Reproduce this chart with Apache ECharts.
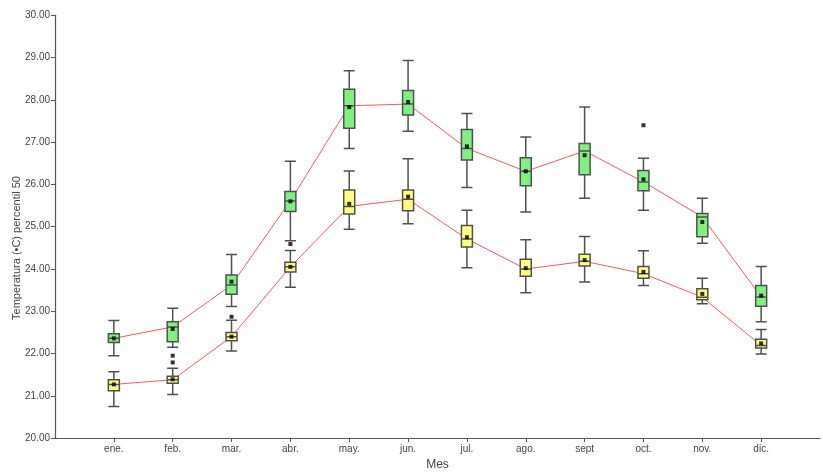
<!DOCTYPE html>
<html>
<head>
<meta charset="utf-8">
<script src="https://cdn.jsdelivr.net/npm/echarts@6/dist/echarts.min.js"></script>
<style>html,body{margin:0;padding:0;background:#fff}#c{width:823px;height:476px}</style>
</head>
<body>
<div id="c"></div>
<script>
// categories (empty ends give the padding before ene. and after dic.)
const months = ['', 'ene.', 'feb.', 'mar.', 'abr.', 'may.', 'jun.', 'jul.', 'ago.', 'sept', 'oct.', 'nov.', 'dic.', ''];
const yTicks = [20, 30, 1];

// green series: [min, Q1, median, Q3, max]
const greenBoxes = [
  [21.95, 22.26, 22.36, 22.47, 22.78],
  [22.15, 22.28, 22.63, 22.75, 23.07],
  [23.11, 23.40, 23.62, 23.86, 24.34],
  [24.67, 25.36, 25.61, 25.83, 26.55],
  [26.85, 27.33, 27.86, 28.25, 28.69],
  [27.26, 27.64, 27.90, 28.22, 28.93],
  [25.93, 26.58, 26.85, 27.30, 27.68],
  [25.35, 25.97, 26.31, 26.63, 27.12],
  [25.67, 26.23, 26.79, 26.97, 27.83],
  [25.39, 25.85, 26.06, 26.33, 26.62],
  [24.61, 24.76, 25.23, 25.31, 25.67],
  [22.75, 23.12, 23.34, 23.61, 24.06]
];
const greenMeans = [22.36, 22.58, 23.70, 25.60, 27.83, 27.95, 26.90, 26.31, 26.69, 26.12, 25.11, 23.37];
const greenOutliers = [[10, 27.40]];

// yellow series: [min, Q1, median, Q3, max]
const yellowBoxes = [
  [20.75, 21.12, 21.27, 21.38, 21.57],
  [21.03, 21.30, 21.38, 21.46, 21.65],
  [22.06, 22.30, 22.40, 22.50, 22.79],
  [23.57, 23.93, 24.05, 24.16, 24.44],
  [24.94, 25.30, 25.48, 25.87, 26.32],
  [25.07, 25.38, 25.65, 25.87, 26.61],
  [24.03, 24.52, 24.71, 25.03, 25.39],
  [23.44, 23.83, 24.00, 24.23, 24.69],
  [23.69, 24.07, 24.18, 24.35, 24.77],
  [23.61, 23.78, 23.89, 24.06, 24.43],
  [23.18, 23.27, 23.33, 23.53, 23.78],
  [21.99, 22.13, 22.19, 22.34, 22.57]
];
const yellowMeans = [21.27, 21.39, 22.40, 24.05, 25.54, 25.71, 24.75, 24.02, 24.21, 23.93, 23.41, 22.24];
const yellowOutliers = [[2, 21.95], [2, 21.79], [3, 22.87], [4, 24.59]];

const GREEN = '#80f080';
const YELLOW = '#ffff80';

const boxItems = (arr, fill) => arr.map((b, i) => ({
  value: [i + 1].concat(b),
  itemStyle: { color: fill, borderColor: '#505050', borderWidth: 1.5 }
}));
const meanPts = arr => arr.map((v, i) => [i + 1, v]);
const medianLine = arr => ['-'].concat(arr.map(b => b[2])).concat(['-']);

const chart = echarts.init(document.getElementById('c'));

chart.setOption({
  animation: false,
  backgroundColor: '#fff',
  grid: { left: 55, top: 15.3, width: 777.8, height: 431.4, containLabel: false },
  xAxis: {
    type: 'category',
    data: months,
    boundaryGap: false,
    name: 'Mes',
    nameLocation: 'middle',
    nameGap: 19,
    nameTextStyle: { fontSize: 12, color: '#444', fontFamily: 'Liberation Sans, Arial' },
    axisLine: { lineStyle: { color: '#555', width: 1.2 } },
    axisTick: { show: true, length: 4, lineStyle: { color: '#555' }, interval: (i) => i > 0 && i < months.length - 1 },
    axisLabel: { fontSize: 10, color: '#444', margin: 6, interval: 0, fontFamily: 'Liberation Sans, Arial' },
    splitLine: { show: false }
  },
  yAxis: {
    type: 'value',
    min: yTicks[0], max: yTicks[1], interval: yTicks[2],
    axisLine: { show: true, lineStyle: { color: '#555', width: 1.2 } },
    axisTick: { show: true, length: 4, lineStyle: { color: '#555' } },
    axisLabel: { fontSize: 10, color: '#444', margin: 5, formatter: v => v.toFixed(2), fontFamily: 'Liberation Sans, Arial' },
    splitLine: { show: false }
  },
  graphic: [{
    type: 'text',
    x: 17, y: 248,
    rotation: Math.PI / 2,
    style: {
      text: 'Temperatura (•C) percentil 50',
      fontSize: 11, fill: '#444', fontFamily: 'Liberation Sans, Arial',
      align: 'center', verticalAlign: 'middle'
    }
  }],
  series: [
    { type: 'line', data: medianLine(greenBoxes), symbol: 'none', z: 1,
      lineStyle: { color: '#ff5a5a', width: 1 }, itemStyle: { color: '#ff5a5a' } },
    { type: 'line', data: medianLine(yellowBoxes), symbol: 'none', z: 1,
      lineStyle: { color: '#ff5a5a', width: 1 }, itemStyle: { color: '#ff5a5a' } },
    { type: 'boxplot', data: boxItems(greenBoxes, GREEN).concat(boxItems(yellowBoxes, YELLOW)),
      encode: { x: 0, y: [1, 2, 3, 4, 5] },
      boxWidth: [11, 11], z: 2, itemStyle: { color: GREEN, borderColor: '#505050', borderWidth: 1.5 } },
    { type: 'scatter', data: meanPts(greenMeans), symbol: 'rect', symbolSize: 4, z: 3, itemStyle: { color: '#000' } },
    { type: 'scatter', data: meanPts(yellowMeans), symbol: 'rect', symbolSize: 4, z: 3, itemStyle: { color: '#000' } },
    { type: 'scatter', data: greenOutliers.concat(yellowOutliers), symbol: 'rect', symbolSize: 4, z: 3, itemStyle: { color: '#000' } }
  ]
});
</script>
</body>
</html>
